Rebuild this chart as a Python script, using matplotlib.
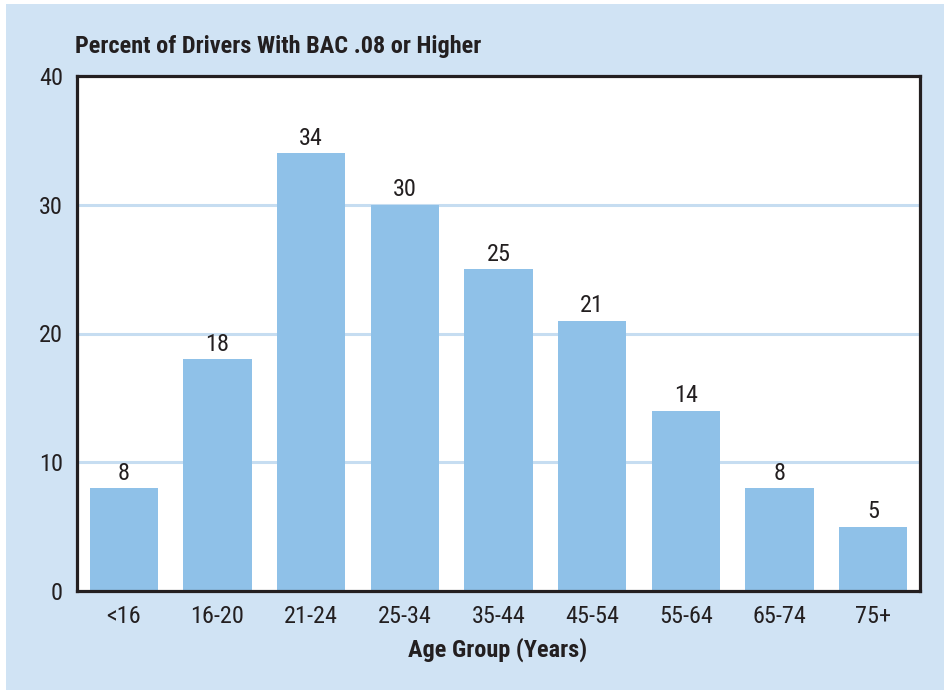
import matplotlib
matplotlib.use("Agg")
import matplotlib.pyplot as plt
from matplotlib.patches import Rectangle

categories = ["<16", "16-20", "21-24", "25-34", "35-44", "45-54", "55-64", "65-74", "75+"]
values = [8, 18, 34, 30, 25, 21, 14, 8, 5]
yticks = [0, 10, 20, 30, 40]

plt.rcParams["font.family"] = ["Roboto Condensed", "DejaVu Sans"]

BG = "#d0e3f4"
BAR = "#8fc1e8"
GRID = "#c6ddf1"
TXT = "#231f20"

W, H = 945, 690
fig = plt.figure(figsize=(W / 100, H / 100), dpi=100, facecolor="white")
fig.patches.append(Rectangle((6 / W, 0), 1, 1 - 4 / H, transform=fig.transFigure,
                             facecolor=BG, edgecolor="none", zorder=-10))

ax = fig.add_axes([77 / W, 1 - 591 / H, (920 - 77) / W, (591 - 76) / H])
ax.set_facecolor("white")
x = list(range(len(categories)))
ax.bar(x, values, width=0.726, color=BAR, zorder=2)
ax.set_xlim(-0.5, len(categories) - 0.5)
ax.set_ylim(0, 40)
ax.set_yticks(yticks)
ax.set_xticks(x)
ax.set_xticklabels(categories)
for gy in yticks[1:-1]:
    ax.axhline(gy, color=GRID, lw=2.2, zorder=1)
ax.tick_params(axis="both", length=0, labelsize=17.5, colors=TXT)
ax.tick_params(axis="x", pad=10)
ax.tick_params(axis="y", pad=10)
for s in ax.spines.values():
    s.set_linewidth(2.3)
    s.set_color(TXT)
    s.set_zorder(5)

for xi, v in zip(x, values):
    ax.annotate(str(v), (xi, v), xytext=(0, 6), textcoords="offset points",
                ha="center", va="baseline", fontsize=17.5, color=TXT)

fig.text(75 / W, 1 - 53 / H, "Percent of Drivers With BAC .08 or Higher",
         ha="left", va="baseline", fontsize=17.5, fontweight="bold", color=TXT)
fig.text(498 / W, 1 - 657 / H, "Age Group (Years)",
         ha="center", va="baseline", fontsize=17.5, fontweight="bold", color=TXT)

fig.savefig("out.png", dpi=100, facecolor="white")
